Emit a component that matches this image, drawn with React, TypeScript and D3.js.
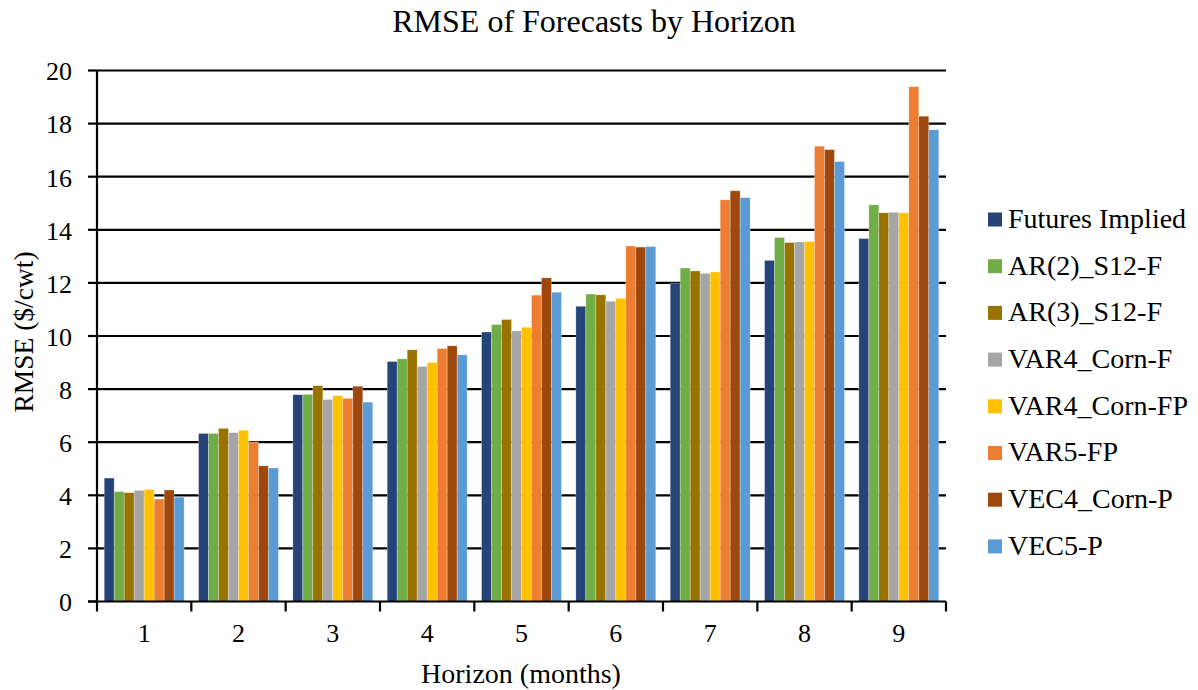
import React from "react";
import * as d3 from "d3";

const categories = ["1", "2", "3", "4", "5", "6", "7", "8", "9"];
const seriesNames = [
  "Futures Implied",
  "AR(2)_S12-F",
  "AR(3)_S12-F",
  "VAR4_Corn-F",
  "VAR4_Corn-FP",
  "VAR5-FP",
  "VEC4_Corn-P",
  "VEC5-P",
];
const futuresImplied = [4.65, 6.33, 7.79, 9.04, 10.15, 11.12, 11.99, 12.85, 13.67];
const ar2 = [4.14, 6.33, 7.8, 9.14, 10.43, 11.58, 12.56, 13.71, 14.94];
const ar3 = [4.1, 6.52, 8.13, 9.48, 10.62, 11.55, 12.45, 13.52, 14.64];
const var4CornF = [4.19, 6.36, 7.61, 8.85, 10.19, 11.31, 12.36, 13.54, 14.66];
const var4CornFP = [4.22, 6.45, 7.75, 9.0, 10.33, 11.42, 12.41, 13.56, 14.64];
const var5FP = [3.86, 6.01, 7.65, 9.53, 11.54, 13.39, 15.13, 17.15, 19.39];
const vec4CornP = [4.2, 5.11, 8.11, 9.63, 12.19, 13.35, 15.47, 17.02, 18.28];
const vec5P = [3.93, 5.03, 7.51, 9.29, 11.65, 13.37, 15.21, 16.57, 17.77];
const yTicks = [0, 2, 4, 6, 8, 10, 12, 14, 16, 18, 20];

const allSeries = [futuresImplied, ar2, ar3, var4CornF, var4CornFP, var5FP, vec4CornP, vec5P];
const colors = ["#264478", "#70AD47", "#997300", "#A5A5A5", "#FFC000", "#ED7D31", "#9E480E", "#5B9BD5"];

const W = 1198;
const H = 690;
const M = { left: 97, right: 946, top: 70.5, bottom: 601.5 };
const FONT = "'Liberation Serif', 'Times New Roman', serif";

export default function App() {
  const x = d3.scaleBand<string>().domain(categories).range([M.left, M.right]).paddingInner(0).paddingOuter(0);
  const xi = d3
    .scaleBand<number>()
    .domain(d3.range(seriesNames.length))
    .range([0, x.bandwidth()])
    .paddingInner(0)
    .paddingOuter(0.72);
  const y = d3.scaleLinear().domain([0, 20]).range([M.bottom, M.top]);

  const boundaries = d3.range(categories.length + 1).map((i) => M.left + i * x.step());

  return (
    <svg width={W} height={H} style={{ position: "absolute", left: 0, top: 0, background: "#fff" }} fontFamily={FONT}>
      <rect width={W} height={H} fill="#fff" />
      <text x={594} y={32} textAnchor="middle" fontSize={32} fill="#000">
        RMSE of Forecasts by Horizon
      </text>
      {yTicks.map((t) =>
        t === 0 ? null : (
          <line key={"g" + t} x1={M.left} x2={M.right} y1={y(t)} y2={y(t)} stroke="#000" strokeWidth={2.2} />
        )
      )}
      {allSeries.map((vals, si) =>
        vals.map((v, ci) => (
          <rect
            key={si + "-" + ci}
            x={(x(categories[ci]) as number) + (xi(si) as number)}
            y={y(v)}
            width={xi.bandwidth()}
            height={y(0) - y(v)}
            fill={colors[si]}
            stroke="#fff"
            strokeOpacity={0.5}
            strokeWidth={0.6}
          />
        ))
      )}
      <line x1={M.left} x2={M.left} y1={M.top} y2={M.bottom} stroke="#000" strokeWidth={2.2} />
      <line x1={M.left - 9} x2={M.right} y1={M.bottom} y2={M.bottom} stroke="#000" strokeWidth={2.2} />
      {yTicks.map((t) => (
        <g key={"t" + t}>
          <line x1={M.left - 9} x2={M.left} y1={y(t)} y2={y(t)} stroke="#000" strokeWidth={2.2} />
          <text x={72} y={y(t)} dy="0.38em" textAnchor="end" fontSize={26} fill="#000">
            {t}
          </text>
        </g>
      ))}
      {boundaries.map((bx, i) => (
        <line key={"b" + i} x1={bx} x2={bx} y1={M.bottom} y2={M.bottom + 10} stroke="#000" strokeWidth={2.2} />
      ))}
      {categories.map((c) => (
        <text
          key={"c" + c}
          x={(x(c) as number) + x.bandwidth() / 2}
          y={642}
          textAnchor="middle"
          fontSize={26}
          fill="#000"
        >
          {c}
        </text>
      ))}
      <text x={521} y={683} textAnchor="middle" fontSize={28} fill="#000">
        Horizon (months)
      </text>
      <text
        transform={`translate(33, 332) rotate(-90)`}
        textAnchor="middle"
        fontSize={27.5}
        fill="#000"
      >
        RMSE ($/cwt)
      </text>
      {seriesNames.map((n, i) => {
        const cy = 219.5 + i * 46.7;
        return (
          <g key={"l" + i}>
            <rect x={988} y={cy - 7} width={14} height={14} fill={colors[i]} />
            <text x={1008} y={cy} dy="0.3em" fontSize={28} fill="#000">
              {n}
            </text>
          </g>
        );
      })}
    </svg>
  );
}
